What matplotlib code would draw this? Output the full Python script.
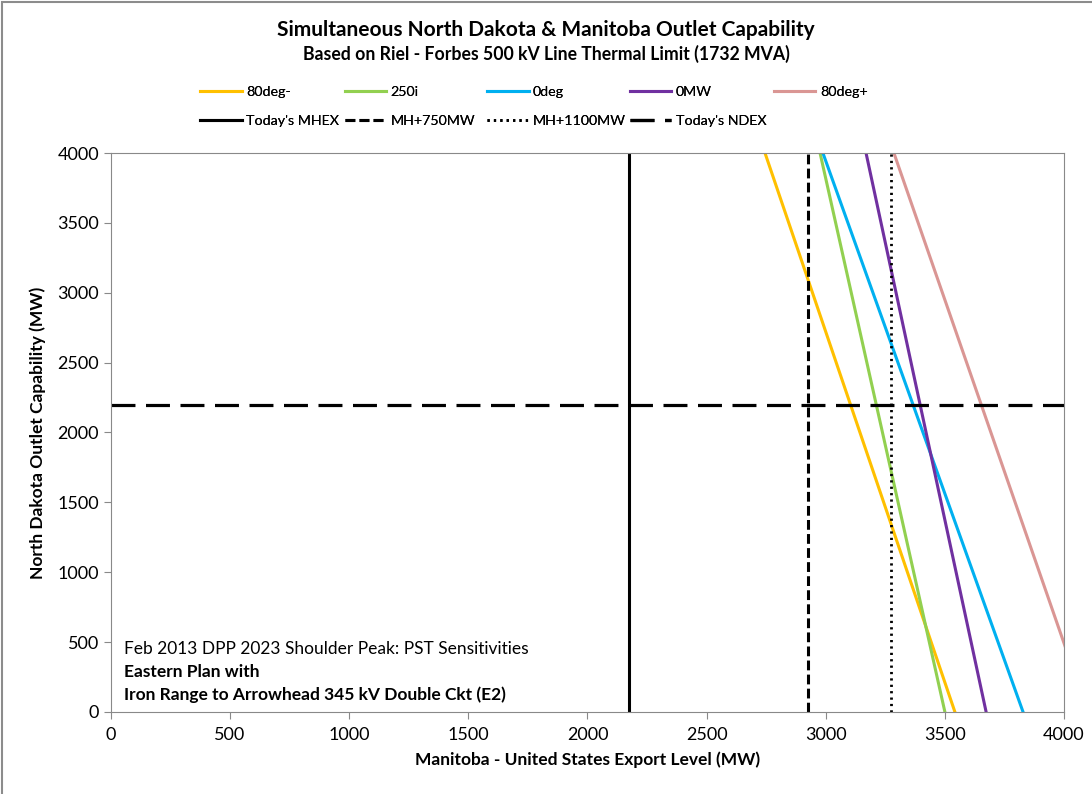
import matplotlib
matplotlib.use("Agg")
import matplotlib.pyplot as plt
from matplotlib.patches import Rectangle

plt.rcParams["font.family"] = ["Lato", "DejaVu Sans"]

# sensitivity lines: export level (MW) at ND outlet = 4000 and = 0
series_names = ["80deg-", "250i", "0deg", "0MW", "80deg+"]
series_colors = ["#FFC000", "#92D050", "#00B0F0", "#7030A0", "#DA9694"]
nd_levels = [4000, 0]
mb_export = [
    [2745, 3542],
    [2976, 3500],
    [2988, 3828],
    [3169, 3673],
    [3286, 4100],
]

# reference limits
mhex_today = 2175
mh_750 = 2925
mh_1100 = 3275
ndex_today = 2200

fig = plt.figure(figsize=(10.92, 7.94), dpi=100)
ax = fig.add_axes([0.1016, 0.1033, 0.8728, 0.704])

handles = []
for name, color, xs in zip(series_names, series_colors, mb_export):
    (h,) = ax.plot(xs, nd_levels, color=color, lw=2.2, label=name)
    handles.append(h)

ref = []
(h,) = ax.plot([mhex_today, mhex_today], [0, 4000], color="black", lw=2.2,
               label="Today's MHEX")
ref.append(h)
(h,) = ax.plot([mh_750, mh_750], [0, 4000], color="black", lw=2.2,
               linestyle=(0, (3.2, 1.4)), label="MH+750MW")
ref.append(h)
(h,) = ax.plot([mh_1100, mh_1100], [0, 4000], color="black", lw=2.0,
               linestyle=(0, (0.8, 1.5)), label="MH+1100MW")
ref.append(h)
(h,) = ax.plot([0, 4000], [ndex_today, ndex_today], color="black", lw=2.3,
               linestyle=(0, (7.5, 3.3)), label="Today's NDEX")
ref.append(h)

ax.set_xlim(0, 4000)
ax.set_ylim(0, 4000)
ax.set_xticks(range(0, 4001, 500))
ax.set_yticks(range(0, 4001, 500))
for s in ax.spines.values():
    s.set_color("#898989")
ax.tick_params(colors="#898989", labelcolor="black", labelsize=13,
               length=5, direction="out")
ax.tick_params(axis="x", pad=6)

ax.set_xlabel("Manitoba - United States Export Level (MW)", fontsize=12.5,
              fontweight="bold", labelpad=6)
ax.set_ylabel("North Dakota Outlet Capability (MW)", fontsize=12.5,
              fontweight="bold", labelpad=8)

fig.text(0.5, 0.962, "Simultaneous North Dakota & Manitoba Outlet Capability",
         ha="center", va="center", fontsize=15, fontweight="bold")
fig.text(0.5, 0.932, "Based on Riel - Forbes 500 kV Line Thermal Limit (1732 MVA)",
         ha="center", va="center", fontsize=12.7, fontweight="bold")

ax.text(0.014, 0.112, "Feb 2013 DPP 2023 Shoulder Peak: PST Sensitivities",
        transform=ax.transAxes, fontsize=12.5, va="center")
ax.text(0.014, 0.072, "Eastern Plan with", transform=ax.transAxes,
        fontsize=12.5, fontweight="bold", va="center")
ax.text(0.014, 0.031, "Iron Range to Arrowhead 345 kV Double Ckt (E2)",
        transform=ax.transAxes, fontsize=12.5, fontweight="bold", va="center")

# Excel-style legend: fixed-width slots, two rows
slot_x = [0.1832, 0.3159, 0.4460, 0.5769, 0.7088]
row_y = [0.884, 0.847]
for row, hs in zip(row_y, [handles, ref]):
    for x, h in zip(slot_x, hs):
        leg = fig.legend(handles=[h], loc="center left",
                         bbox_to_anchor=(x, row), frameon=False, fontsize=10.3,
                         handlelength=2.9, handletextpad=0.3, borderpad=0,
                         borderaxespad=0)
        fig.add_artist(leg)

fig.add_artist(Rectangle((0.002, -0.01), 1.2, 1.007, transform=fig.transFigure,
                         fill=False, edgecolor="#8c8c8c", lw=1.5))

fig.savefig("out.png", dpi=100)
